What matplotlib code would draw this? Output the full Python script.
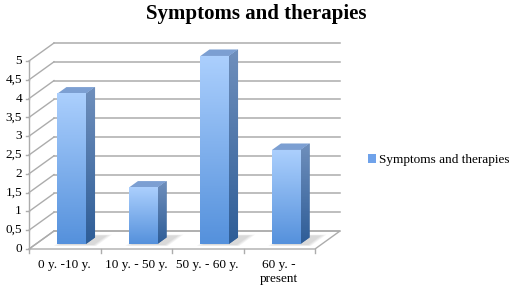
import numpy as np
import matplotlib.pyplot as plt
from matplotlib.patches import Polygon, Patch

categories = ['0 y. -10 y.', '10 y. - 50 y.', '50 y. - 60 y.', '60 y. -\npresent']
values = [4, 1.5, 5, 2.5]
yticks = [0, 0.5, 1, 1.5, 2, 2.5, 3, 3.5, 4, 4.5, 5]
ytick_labels = ['0', '0,5', '1', '1,5', '2', '2,5', '3', '3,5', '4', '4,5', '5']
series_name = 'Symptoms and therapies'

plt.rcParams['font.family'] = ['Liberation Serif', 'DejaVu Serif']

# pixel scale of the plot: 71.5 px per category, 37.6 px per unit
W, H = 513, 290
px_x, px_y = 71.5, 37.6
x0_px, y0_px = 29, 249
DX, DY = 25 / px_x, 18 / px_y   # depth offset of the back wall


def P(x, y, d):
    return (x + d * DX, y + d * DY)


fig = plt.figure(figsize=(W / 100, H / 100), dpi=100)
ax = fig.add_axes([0, 0, 1, 1])
ax.axis('off')

n = len(categories)
grid_c = '#acacac'

# floor
floor = Polygon([P(0, 0, 0), P(n, 0, 0), P(n, 0, 1), P(0, 0, 1)],
                closed=True, fc='white', ec=grid_c, lw=1, zorder=1)
ax.add_patch(floor)

# back wall grid and side wall
for v in yticks:
    a, b = P(0, v, 1), P(n, v, 1)
    ax.plot([a[0], b[0]], [a[1], b[1]], c=grid_c, lw=1.1, zorder=2)
    c = P(0, v, 0)
    ax.plot([c[0], a[0]], [c[1], a[1]], c=grid_c, lw=1, zorder=2)
    ax.plot([c[0] - 3 / px_x, c[0]], [v, v], c=grid_c, lw=1, zorder=2)
ax.plot([0, 0], [0, yticks[-1]], c=grid_c, lw=1, zorder=2)

# x ticks
for i in range(n + 1):
    ax.plot([i, i], [0, -4 / px_y], c=grid_c, lw=1, zorder=2)

# y tick labels
for v, lab in zip(yticks, ytick_labels):
    ax.text(-7 / px_x, v, lab, ha='right', va='center', fontsize=9.5, color='black')

# category labels
for i, lab in enumerate(categories):
    ax.text(i + 0.5, -10 / px_y, lab, ha='center', va='top', fontsize=9.5,
            color='black', linespacing=1.2)

# bars
d0, d1 = 0.28, 0.64
bw = 0.4
grad = np.linspace(0, 1, 100).reshape(-1, 1)
cm_front = plt.matplotlib.colors.LinearSegmentedColormap.from_list('front', ['#abcffd', '#5591dc'])
cm_side = plt.matplotlib.colors.LinearSegmentedColormap.from_list('side', ['#6f8fbc', '#2e5d97'])
for i, v in enumerate(values):
    xl = i + 0.5 - bw / 2
    xr = i + 0.5 + bw / 2
    # soft shadow on the floor
    for k, a in enumerate([0.25, 0.35, 0.5]):
        g = 0.06 - k * 0.025
        sh = Polygon([P(xl + 0.05 - g, 0, d0 - 0.05 - g), P(xr + 0.12 + g, 0, d0 - 0.05 - g),
                      P(xr + 0.12 + g, 0, d1 + 0.1 + g), P(xl + 0.05 - g, 0, d1 + 0.1 + g)],
                     closed=True, fc='#cfcfcf', ec='none', alpha=a, zorder=3)
        ax.add_patch(sh)
    # side face
    side = [P(xr, 0, d0), P(xr, 0, d1), P(xr, v, d1), P(xr, v, d0)]
    sp = Polygon(side, closed=True, fc='#466f9f', ec='none', zorder=4)
    ax.add_patch(sp)
    xs = [p[0] for p in side]
    ys = [p[1] for p in side]
    im = ax.imshow(grad, cmap=cm_side, extent=(min(xs), max(xs), min(ys), max(ys)),
                   aspect='auto', origin='upper', zorder=4)
    im.set_clip_path(sp)
    # top face
    top = Polygon([P(xl, v, d0), P(xr, v, d0), P(xr, v, d1), P(xl, v, d1)],
                  closed=True, fc='#7c9fd2', ec='none', zorder=5)
    ax.add_patch(top)
    # front face
    fl, fb = P(xl, 0, d0)
    fr, ft = P(xr, v, d0)
    ax.imshow(grad, cmap=cm_front, extent=(fl, fr, fb, ft),
              aspect='auto', origin='upper', zorder=5)

ax.set_xlim(-x0_px / px_x, (W - x0_px) / px_x)
ax.set_ylim(-(H - y0_px) / px_y, y0_px / px_y)

fig.text(0.5, 1 - 14 / H, 'Symptoms and therapies', ha='center', va='center',
         fontsize=15, fontweight='bold', color='black')

fig.legend(handles=[Patch(fc='#6fa2ea', ec='none', label=series_name)],
           loc='center left', bbox_to_anchor=(368 / W, 1 - 160 / H), frameon=False,
           fontsize=9.5, handlelength=0.6, handleheight=0.6, handletextpad=0.25,
           borderaxespad=0, borderpad=0)

fig.savefig('out.png', dpi=100)
